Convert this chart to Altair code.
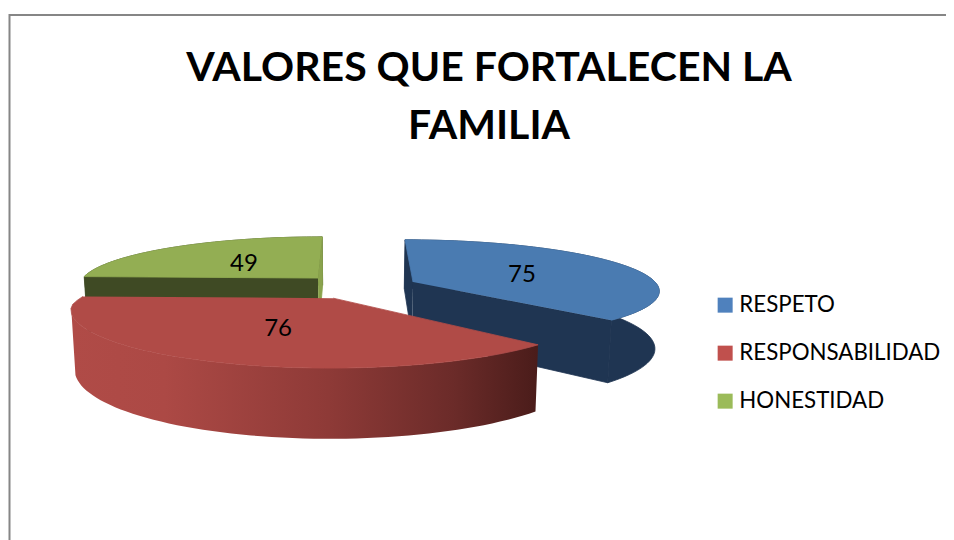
import math
import altair as alt
import pandas as pd

# --- chart values -------------------------------------------------------
CATEGORIES = ["RESPETO", "RESPONSABILIDAD", "HONESTIDAD"]
VALUES = [75, 76, 49]
LEGEND_COLORS = ["#4F81BD", "#C0504D", "#9BBB59"]
TOP_COLORS = ["#4A7BB1", "#B04B47", "#93AE53"]
START_WALL_COLORS = ["#1F3552", "#4E1E1C", "#3F4A24"]
END_WALL_COLORS = ["#1F3552", "#4E1E1C", "#8AA34D"]
ARC_WALL_COLORS = ["#1F3552", None, "#3F4A24"]
TITLE_LINES = ["VALORES QUE FORTALECEN LA", "FAMILIA"]

W, H = 938, 532
FONT = "Lato"

# --- perspective of the exploded pie -------------------------------------
VP_X, VP_Y, PLANE = 351.0, -45.0, 327.0
K = 0.148
THICK = 56.0
NADIR = 0.986
OFFSET_X = [62.0, -17.0, -33.4]
OFFSET_V = [0.0, -0.318, 0.082]
RADIUS = [242.0, 246.0, 238.0]
DEPTH = [1.0, 1.09, 1.0]


def project(i, ang, frac, bottom=False):
    u = math.sin(ang) * frac
    v = math.cos(ang) * frac * DEPTH[i]
    xw = OFFSET_X[i] + RADIUS[i] * u
    vw = OFFSET_V[i] + v
    s = 1.0 / (1.0 + K * vw)
    x = VP_X + xw * s
    y = VP_Y + PLANE * s
    if bottom:
        x = VP_X + (x - VP_X) * NADIR
        y = y + THICK * s
    return x, y


total = sum(VALUES)
starts, ends, acc = [], [], 0.0
for val in VALUES:
    starts.append(acc / total * 2 * math.pi)
    acc += val
    ends.append(acc / total * 2 * math.pi)

x_scale = alt.Scale(domain=[8, 8 + W], range=[0, W], nice=False, zero=False)
y_scale = alt.Scale(domain=[8, 8 + H], range=[0, H], nice=False, zero=False)
X = alt.X("x:Q", scale=x_scale, axis=None)
Y = alt.Y("y:Q", scale=y_scale, axis=None)


def polygon(points, fill, seam=True):
    df = pd.DataFrame({"x": [p[0] for p in points], "y": [p[1] for p in points],
                       "i": list(range(len(points)))})
    if seam:
        mark = alt.Chart(df).mark_line(fill=fill, stroke=fill, strokeWidth=0.8, opacity=1)
    else:
        mark = alt.Chart(df).mark_line(fill=fill, stroke=None, strokeWidth=0, opacity=1)
    return mark.encode(x=X, y=Y, order=alt.Order("i:Q"))


def rim(i, bottom=False, stop=None, n=60):
    stop = ends[i] if stop is None else stop
    return [project(i, starts[i] + (stop - starts[i]) * j / n, 1, bottom) for j in range(n + 1)]


# the red slice has a softened corner where its rim meets its left edge
RED_SOFT_ANGLE = math.radians(255)


def top_face(i):
    if i == 1:
        pts = rim(i, stop=RED_SOFT_ANGLE)
        pts += [project(i, math.radians(260), 0.999),
                project(i, math.radians(264), 0.995),
                project(i, math.radians(268), 0.985),
                project(i, ends[i], 0.975)]
    else:
        pts = rim(i)
    return polygon([project(i, 0, 0)] + pts, TOP_COLORS[i])


def radial_wall(i, ang, color):
    pts = [project(i, ang, 0), project(i, ang, 1), project(i, ang, 1, True), project(i, ang, 0, True)]
    return polygon(pts, color)


def arc_wall(i, color, seam=True, stop=None):
    return polygon(rim(i, stop=stop) + rim(i, True, stop=stop)[::-1], color, seam)


red_gradient = alt.LinearGradient(
    gradient="linear", x1=0, x2=1, y1=0, y2=0,
    stops=[
        alt.GradientStop(color="#B04B47", offset=0.0),
        alt.GradientStop(color="#AC4945", offset=0.2),
        alt.GradientStop(color="#8E3A37", offset=0.55),
        alt.GradientStop(color="#6B2B29", offset=0.82),
        alt.GradientStop(color="#4A1C1A", offset=1.0),
    ],
)

layers = []
# green (far), blue, then red (nearest)
for i in [2, 0, 1]:
    if i == 1:
        layers.append(arc_wall(i, red_gradient, seam=False, stop=RED_SOFT_ANGLE))
    else:
        layers.append(arc_wall(i, ARC_WALL_COLORS[i]))
        layers.append(radial_wall(i, starts[i], START_WALL_COLORS[i]))
        layers.append(radial_wall(i, ends[i], END_WALL_COLORS[i]))
    layers.append(top_face(i))

# data labels at half radius on each slice's middle angle
label_pts = [project(i, (starts[i] + ends[i]) / 2, 0.5) for i in range(3)]
labels = pd.DataFrame({"x": [p[0] for p in label_pts], "y": [p[1] for p in label_pts],
                       "v": [str(v) for v in VALUES]})
layers.append(alt.Chart(labels).mark_text(font=FONT, fontSize=24, color="#000000", dy=2, dx=2).encode(
    x=X, y=Y, text="v:N"))

# chart frame
frame_top = pd.DataFrame({"x": [9], "x2": [8 + W], "y": [15]})
frame_left = pd.DataFrame({"x": [9.5], "y": [14], "y2": [8 + H]})
layers.append(alt.Chart(frame_top).mark_rule(color="#868686", strokeWidth=2).encode(
    x=X, x2="x2:Q", y=Y))
layers.append(alt.Chart(frame_left).mark_rule(color="#868686", strokeWidth=2).encode(
    x=X, y=Y, y2="y2:Q"))

# legend (invisible points only feed the legend)
legend_df = pd.DataFrame({"cat": CATEGORIES, "x": [-100] * 3, "y": [-100] * 3})
layers.append(alt.Chart(legend_df).mark_square(opacity=0, clip=True).encode(
    x=X, y=Y,
    color=alt.Color("cat:N", sort=CATEGORIES,
                    scale=alt.Scale(domain=CATEGORIES, range=LEGEND_COLORS),
                    legend=alt.Legend(
                        title=None, orient="none", legendX=706, legendY=286,
                        symbolType="square", symbolSize=225, symbolOpacity=1,
                        symbolStrokeWidth=0,
                        labelFont=FONT, labelFontSize=22.3, labelColor="#000000",
                        rowPadding=25, labelOffset=3, labelLimit=300))))

chart = alt.layer(*layers).properties(
    width=W, height=H, padding=0,
    autosize=alt.AutoSizeParams(type="none"),
    background="#FFFFFF",
    title=alt.TitleParams(text=TITLE_LINES, font=FONT, fontSize=41, fontWeight="bold",
                          color="#000000", lineHeight=58, anchor="middle", dx=12,
                          baseline="top", offset=0, dy=140),
).configure_view(stroke=None)

chart.save("out.html", embed_options={"renderer": "svg", "actions": False})
